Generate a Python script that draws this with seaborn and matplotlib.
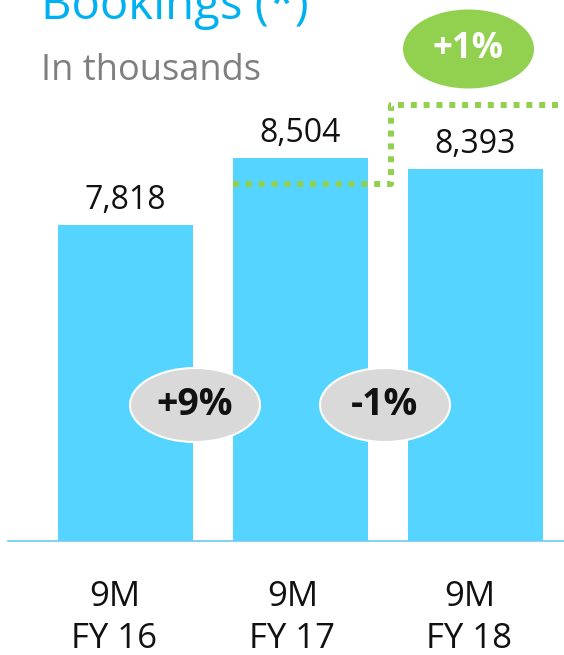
import matplotlib
matplotlib.use("Agg")
import matplotlib.pyplot as plt
from matplotlib.patches import Ellipse
import matplotlib.transforms as mtransforms
import seaborn as sns
import pandas as pd

# Data
periods = ["9M\nFY 16", "9M\nFY 17", "9M\nFY 18"]
bookings = [7818, 8504, 8393]
value_labels = ["7,818", "8,504", "8,393"]
growth_labels = ["+9%", "-1%"]
overall_label = "+1%"

BAR_BLUE = "#55D4FF"
TITLE_BLUE = "#00B0F0"
GREEN = "#92D050"
GREY_BUBBLE = "#D9D9D9"

sns.set_theme(style="white")
plt.rcParams["font.family"] = ["Open Sans", "DejaVu Sans"]

W, H = 564, 655
DPI = 100
fig = plt.figure(figsize=(W / DPI, H / DPI), dpi=DPI)
base_px = 541
y_lo, y_hi = 4584, 10121
x_lo, x_hi = -0.671, 2.506
ax = fig.add_axes([8 / W, (H - base_px) / H, 1 - 8 / W, base_px / H])

df = pd.DataFrame({"period": periods, "bookings": bookings})
bar_w = 0.77
sns.barplot(data=df, x="period", y="bookings", color=BAR_BLUE, saturation=1,
            width=bar_w, ax=ax, linewidth=0)

ax.set_xlim(x_lo, x_hi)
ax.set_ylim(y_lo, y_hi)
ax.set_xlabel("")
ax.set_ylabel("")
ax.set_yticks([])
for s in ["left", "right", "top"]:
    ax.spines[s].set_visible(False)
ax.spines["bottom"].set_color("#6CCBF2")
ax.spines["bottom"].set_linewidth(1.2)
ax.tick_params(axis="x", length=0, pad=28, labelsize=25, labelcolor="#111111")
label_shift_px = [-11, -8, -6]
for lbl, dx in zip(ax.get_xticklabels(), label_shift_px):
    lbl.set_linespacing(1.3)
    lbl.set_transform(lbl.get_transform() +
                      mtransforms.ScaledTranslation(dx / DPI, 0, fig.dpi_scale_trans))

# value labels above bars
for i, (v, txt) in enumerate(zip(bookings, value_labels)):
    ax.annotate(txt, (i, v), xytext=(0, 11.5), textcoords="offset points",
                ha="center", va="baseline", fontsize=23, color="#111111")

# helpers to place decorations in data units
px_per_unit = base_px / (y_hi - y_lo)
px_per_cat = (W - 8) / (x_hi - x_lo)


def y_at(px):
    return y_lo + (base_px - px) / px_per_unit


def x_at(px):
    return x_lo + (px - 8) / px_per_cat


# growth bubbles between bars
bubble_px = [195, 385]
for xp, txt in zip(bubble_px, growth_labels):
    xc, yc = x_at(xp), y_at(405)
    ax.add_patch(Ellipse((xc, yc), 130 / px_per_cat, 74 / px_per_unit,
                         facecolor=GREY_BUBBLE, edgecolor="white", linewidth=1.5,
                         zorder=4, clip_on=False))
    ax.text(xc, yc, txt, ha="center", va="center", fontsize=27,
            fontweight="bold", color="#111111", zorder=5)

# dotted step line showing overall change
low_y, high_y = y_at(184), y_at(105)
step_x = x_at(391)
ax.plot([1 - bar_w / 2, step_x, step_x, x_hi], [low_y, low_y, high_y, high_y],
        color=GREEN, linewidth=4.3, linestyle=(0, (1, 1.15)),
        solid_capstyle="butt", dash_capstyle="butt", zorder=3, clip_on=False)

# overall growth bubble
gx, gy = x_at(468.5), y_at(49)
ax.add_patch(Ellipse((gx, gy), 131 / px_per_cat, 79 / px_per_unit,
                     facecolor=GREEN, edgecolor="none", zorder=4, clip_on=False))
ax.text(gx, gy, overall_label, ha="center", va="center",
        fontsize=25, fontweight="bold", color="white", zorder=5)

# title block
fig.text(41 / W, 1 - 19 / H, "Bookings (*)", ha="left", va="baseline",
         fontsize=34, color=TITLE_BLUE)
fig.text(41 / W, 1 - 80 / H, "In thousands", ha="left", va="baseline",
         fontsize=26, color="#7F7F7F")

fig.savefig("out.png", dpi=DPI)
